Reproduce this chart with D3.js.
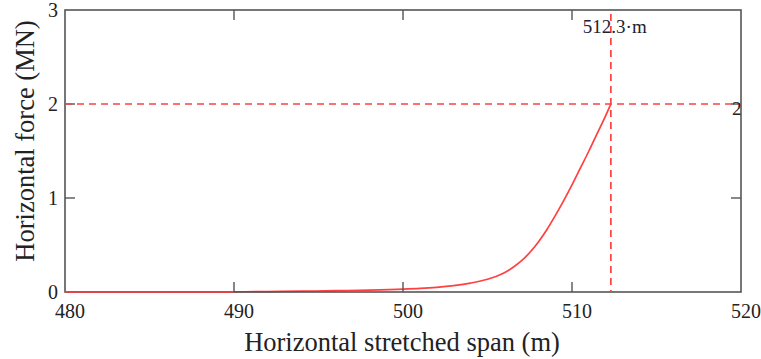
<!DOCTYPE html>
<html>
<head>
<meta charset="utf-8">
<script src="https://cdn.jsdelivr.net/npm/d3@7"></script>
<style>
  html, body { margin: 0; padding: 0; background: #fff; }
  svg text { font-family: "Liberation Serif", "Times New Roman", serif; fill: #222; }
</style>
</head>
<body>
<svg id="chart" width="761" height="359"></svg>
<script>
// ---- data ----
const spanM = [480, 485, 490, 492, 494, 496, 498, 500, 501, 502, 503, 504, 505, 505.5, 506, 506.5, 507, 507.5, 508, 508.5, 509, 509.5, 510, 510.5, 511, 511.5, 512, 512.3];
const forceMN = [0, 0, 0.002, 0.005, 0.009, 0.014, 0.02, 0.03, 0.038, 0.05, 0.068, 0.095, 0.135, 0.165, 0.205, 0.26, 0.33, 0.42, 0.53, 0.66, 0.81, 0.97, 1.14, 1.32, 1.5, 1.69, 1.88, 2.0];
const xTicks = [480, 490, 500, 510, 520];
const yTicks = [0, 1, 2, 3];
const markX = 512.3;
const markY = 2;
const markXLabel = "512.3·m";
const markYLabel = "2";
const xTitle = "Horizontal stretched span (m)";
const yTitle = "Horizontal force (MN)";

// ---- layout ----
const svg = d3.select("#chart");
const L = 65, R = 741, T = 10, B = 292;
const x = d3.scaleLinear().domain([480, 520]).range([L, R]);
const y = d3.scaleLinear().domain([0, 3]).range([B, T]);
const axisColor = "#555";
const red = "#ff4040";

// curve
const pts = spanM.map((v, i) => [v, forceMN[i]]);
svg.append("path")
  .attr("d", d3.line().x(d => x(d[0])).y(d => y(d[1])).curve(d3.curveMonotoneX)(pts))
  .attr("fill", "none").attr("stroke", red).attr("stroke-width", 1.7);

// frame
svg.append("rect").attr("x", L).attr("y", T).attr("width", R - L).attr("height", B - T)
  .attr("fill", "none").attr("stroke", axisColor).attr("stroke-width", 1.6);

// curve lying on zero over the bottom axis
svg.append("line").attr("x1", x(480)).attr("x2", x(490)).attr("y1", y(0)).attr("y2", y(0))
  .attr("stroke", red).attr("stroke-width", 1.7);

// ticks (inward)
const tk = 10;
const innerX = xTicks.slice(1, -1), innerY = yTicks.slice(1, -1);
innerX.forEach(v => {
  svg.append("line").attr("x1", x(v)).attr("x2", x(v)).attr("y1", B).attr("y2", B - tk).attr("stroke", axisColor).attr("stroke-width", 1.4);
  svg.append("line").attr("x1", x(v)).attr("x2", x(v)).attr("y1", T).attr("y2", T + tk).attr("stroke", axisColor).attr("stroke-width", 1.4);
});
innerY.forEach(v => {
  svg.append("line").attr("x1", L).attr("x2", L + tk).attr("y1", y(v)).attr("y2", y(v)).attr("stroke", axisColor).attr("stroke-width", 1.4);
  svg.append("line").attr("x1", R).attr("x2", R - tk).attr("y1", y(v)).attr("y2", y(v)).attr("stroke", axisColor).attr("stroke-width", 1.4);
});

// tick labels
xTicks.forEach(v => {
  svg.append("text").attr("x", x(v) + 5).attr("y", 318).attr("text-anchor", "middle")
    .attr("font-size", 20).text(v);
});
yTicks.forEach(v => {
  svg.append("text").attr("x", 58).attr("y", y(v) + 7).attr("text-anchor", "end")
    .attr("font-size", 20).text(v);
});

// marker dashed lines
svg.append("line").attr("x1", L).attr("x2", R).attr("y1", y(markY)).attr("y2", y(markY))
  .attr("stroke", red).attr("stroke-width", 1.7).attr("stroke-dasharray", "7,5");
svg.append("line").attr("x1", x(markX)).attr("x2", x(markX)).attr("y1", T + 4).attr("y2", B)
  .attr("stroke", red).attr("stroke-width", 1.7).attr("stroke-dasharray", "7,5");

svg.append("text").attr("x", x(markX) - 28).attr("y", 33).attr("font-size", 19)
  .style("fill", "#223").text(markXLabel);
svg.append("text").attr("x", R - 9).attr("y", y(markY) + 11).attr("font-size", 19)
  .style("fill", "#222").text(markYLabel);

// axis titles
svg.append("text").attr("x", 402).attr("y", 351).attr("text-anchor", "middle")
  .attr("font-size", 26.5).text(xTitle);
svg.append("text").attr("transform", `translate(34,141) rotate(-90)`)
  .attr("text-anchor", "middle").attr("font-size", 26.5).text(yTitle);
</script>
</body>
</html>
